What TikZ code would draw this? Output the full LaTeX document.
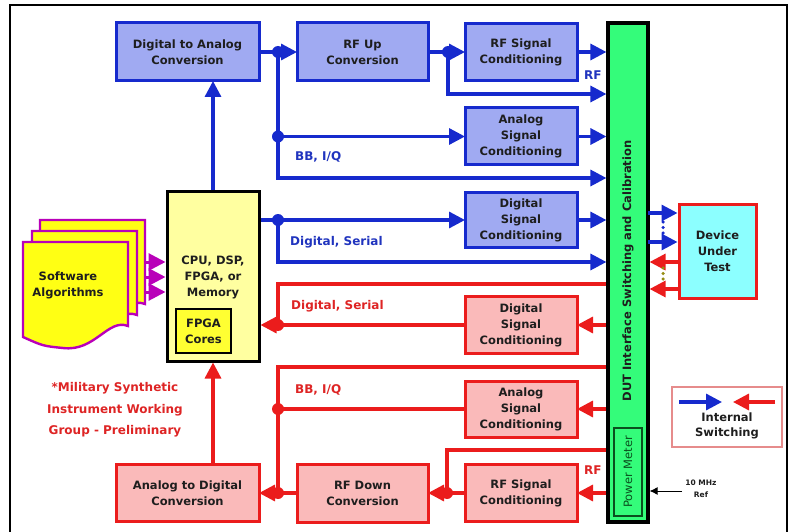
\documentclass[tikz,border=0pt]{standalone}
\usepackage{fontspec}
\setmainfont{DejaVu Sans}
\usetikzlibrary{arrows.meta}

\definecolor{lineblue}{RGB}{22,42,205}
\definecolor{fillblue}{RGB}{160,170,242}
\definecolor{textblue}{RGB}{32,52,190}
\definecolor{linered}{RGB}{235,28,28}
\definecolor{fillred}{RGB}{250,186,186}
\definecolor{textred}{RGB}{222,36,36}
\definecolor{barfill}{RGB}{52,252,122}
\definecolor{pmgreen}{RGB}{10,80,30}
\definecolor{cpufill}{RGB}{255,255,160}
\definecolor{fpgafill}{RGB}{255,255,50}
\definecolor{docfill}{RGB}{255,255,20}
\definecolor{docedge}{RGB}{185,0,185}
\definecolor{dutfill}{RGB}{140,255,255}
\definecolor{ink}{RGB}{30,30,30}
\definecolor{legendedge}{RGB}{230,140,140}
\definecolor{olivedots}{RGB}{150,140,20}

\newcommand\boxfont{\bfseries\fontsize{11.5}{16}\selectfont}
\newcommand\labelfont{\bfseries\fontsize{12}{14}\selectfont}

\tikzset{
  wh/.style 2 args={minimum width=#1, minimum height=#2},
  basebox/.style={line width=3pt, align=center, font=\boxfont, text=ink,
                  inner sep=0pt, outer sep=0pt},
  bbox/.style={basebox, draw=lineblue, fill=fillblue},
  rbox/.style={basebox, draw=linered, fill=fillred},
  bl/.style={draw=lineblue, line width=3.3pt},
  rl/.style={draw=linered, line width=3.3pt},
  bdot/.style={fill=lineblue},
  rdot/.style={fill=linered},
  mgline/.style={draw=docedge, line width=3pt},
  blbl/.style={font=\labelfont, text=textblue, anchor=west, inner sep=0pt},
  rlbl/.style={font=\labelfont, text=textred, anchor=west, inner sep=0pt},
  docpage/.pic={
    \draw[draw=docedge, fill=docfill, line width=2.4pt]
      (0,0) -- (105,0) -- (105,84)
      .. controls (85,76) and (72,110) .. (40,106)
      .. controls (20,104) .. (0,95) -- cycle;
  }
}

\begin{document}
\begin{tikzpicture}[x=1pt, y=-1pt, >={Triangle[length=16pt,width=16pt]}]
\useasboundingbox (0,0) rectangle (793,532);

% outer frame
\draw[line width=1.2pt, black] (10,534) -- (10,5) -- (787,5) -- (787,534);

% ---------- transmit side (blue) ----------
\node[bbox, wh={143pt}{58pt}] (dac)   at (187.5,52)  {Digital to Analog\\Conversion};
\node[bbox, wh={131pt}{58pt}] (rfup)  at (362.5,52)  {RF Up\\Conversion};
\node[bbox, wh={112pt}{57pt}] (rfsc)  at (521,52)    {RF Signal\\Conditioning};
\node[bbox, wh={112pt}{57pt}] (asig)  at (521,136.5) {Analog\\Signal\\Conditioning};
\node[bbox, wh={112pt}{55pt}] (dsig)  at (521,220)   {Digital\\Signal\\Conditioning};

% ---------- receive side (red) ----------
\node[rbox, wh={112pt}{57pt}] (dsigr)  at (521,325)  {Digital\\Signal\\Conditioning};
\node[rbox, wh={112pt}{56pt}] (asigr)  at (521,409)  {Analog\\Signal\\Conditioning};
\node[rbox, wh={112pt}{57pt}] (rfscr)  at (521,493)  {RF Signal\\Conditioning};
\node[rbox, wh={131pt}{58pt}] (rfdown) at (362.5,493) {RF Down\\Conversion};
\node[rbox, wh={143pt}{57pt}] (adc)    at (187.5,493) {Analog to Digital\\Conversion};

% ---------- processor ----------
\node[draw=black, fill=cpufill, line width=3pt, wh={92pt}{169pt}, inner sep=0pt] (cpu) at (213,276.5) {};
\node[font=\boxfont, text=ink, align=center, inner sep=0pt] (cputxt) at (213,277) {CPU, DSP,\\FPGA, or\\Memory};
\node[draw=black, fill=fpgafill, line width=2pt, wh={55pt}{44pt}, inner sep=0pt,
      font=\boxfont, text=ink, align=center] (fpga) at (203.5,331) {FPGA\\Cores};

% ---------- DUT interface bar ----------
\node[draw=black, fill=barfill, line width=3.2pt, wh={40pt}{499pt}, inner sep=0pt] (dutsw) at (628,272.5) {};
\node[rotate=90, font=\bfseries\fontsize{11.5}{13}\selectfont, text=ink, inner sep=0pt] (dutlbl) at (628,271) {DUT Interface Switching and Calibration};
\node[draw=pmgreen, line width=1.6pt, wh={28pt}{88pt}, inner sep=0pt] (pm) at (628,472) {};
\node[rotate=90, font=\fontsize{11.5}{12}\selectfont, text=pmgreen, inner sep=0pt] (pmlbl) at (pm.center) {Power Meter};

% ---------- device under test ----------
\node[draw=linered, fill=dutfill, line width=3pt, wh={77pt}{93pt}, inner sep=0pt,
      font=\boxfont, text=ink, align=center] (dut) at (717.5,251.5) {Device\\Under\\Test};

% ---------- software stack ----------
\pic at (40,220) {docpage};
\pic at (32,231) {docpage};
\pic at (23,242) {docpage};
\node[font=\boxfont, text=ink, align=center, inner sep=0pt] (sw) at (68,285) {Software\\Algorithms};

\coordinate (s1) at (145,262);
\coordinate (s2) at (145,277);
\coordinate (s3) at (145,292);
\foreach \s in {s1,s2,s3}
  \draw[mgline, -{Triangle[length=17pt,width=17pt]}, color=docedge] (\s) -- (\s -| cpu.west);

% ---------- blue connectors ----------
\coordinate (jA) at (278,52);
\coordinate (jB) at (278,136.5);
\coordinate (bbl) at (278,178);
\coordinate (jC) at (448,52);
\coordinate (rfl) at (448,94);
\coordinate (jD) at (278,220);
\coordinate (dsl) at (278,262);

\draw[bl, ->] (cpu.north) -- (cpu.north |- dac.south);
\draw[bl] (dac.east) -- (jA);
\draw[bl, ->] (jA) -- (rfup.west);
\draw[bl, ->] (jA) |- (bbl -| dutsw.west);
\draw[bl, ->] (jB) -- (asig.west);
\draw[bl, ->] (asig.east) -- (asig.east -| dutsw.west);
\draw[bl] (rfup.east) -- (jC);
\draw[bl, ->] (jC) -- (rfsc.west);
\draw[bl, ->] (jC) |- (rfl -| dutsw.west);
\draw[bl, ->] (rfsc.east) -- (rfsc.east -| dutsw.west);
\draw[bl] (jD -| cpu.east) -- (jD);
\draw[bl, ->] (jD) -- (dsig.west);
\draw[bl, ->] (jD) |- (dsl -| dutsw.west);
\draw[bl, ->] (dsig.east) -- (dsig.east -| dutsw.west);
\foreach \j in {jA,jB,jC,jD}
  \fill[bdot] (\j) circle[radius=6pt];

% ---------- red connectors ----------
\coordinate (rd1) at (278,284);
\coordinate (jE) at (278,325);
\coordinate (rb1) at (278,367);
\coordinate (jF) at (278,409);
\coordinate (jG) at (278,493);
\coordinate (jH) at (447,493);
\coordinate (rfr) at (447,450);

\draw[rl] (rd1 -| dutsw.west) -- (rd1) -- (jE);
\draw[rl, ->] (jE) -- (jE -| cpu.east);
\draw[rl] (dsigr.west) -- (jE);
\draw[rl, ->] (dsigr.east -| dutsw.west) -- (dsigr.east);
\draw[rl, ->] (asigr.east -| dutsw.west) -- (asigr.east);
\draw[rl] (asigr.west) -- (jF);
\draw[rl] (rb1 -| dutsw.west) -- (rb1) -- (jG);
\draw[rl] (rfdown.west) -- (jG);
\draw[rl, ->] (jG) -- (adc.east);
\draw[rl, ->] (rfscr.east -| dutsw.west) -- (rfscr.east);
\draw[rl] (rfscr.west) -- (jH);
\draw[rl, ->] (jH) -- (rfdown.east);
\draw[rl] (jH) |- (rfr -| dutsw.west);
\draw[rl, <-] (cpu.south) -- (cpu.south |- adc.north);
\foreach \j in {jE,jF,jG,jH}
  \fill[rdot] (\j) circle[radius=6pt];

% ---------- path labels ----------
\node[blbl] (lbbb) at (295,157) {BB, I/Q};
\node[blbl] (lbrf) at (584,75)  {RF};
\node[blbl] (lbds) at (290,242) {Digital, Serial};
\node[rlbl] (lrds) at (291,306) {Digital, Serial};
\node[rlbl] (lrbb) at (295,390) {BB, I/Q};
\node[rlbl] (lrrf) at (584,470) {RF};

% ---------- DUT links ----------
\coordinate (u1) at (648,213);
\coordinate (u2) at (648,242);
\coordinate (v1) at (679,262);
\coordinate (v2) at (679,289);
\draw[bl, ->] (u1) -- (u1 -| dut.west);
\draw[bl, ->] (u2) -- (u2 -| dut.west);
\draw[rl, ->] (v1) -- (v1 -| dutsw.east);
\draw[rl, ->] (v2) -- (v2 -| dutsw.east);
\draw[lineblue, line width=3.5pt, dash pattern=on 0pt off 5.5pt, line cap=round] (663,222) -- (663,238);
\draw[olivedots, line width=3.5pt, dash pattern=on 0pt off 5.5pt, line cap=round] (663,268) -- (663,284);

% ---------- note ----------
\node[font=\bfseries\fontsize{12}{21.5}\selectfont, text=textred, align=center, inner sep=0pt] (note) at (115,410)
  {*Military Synthetic\\Instrument Working\\Group - Preliminary};

% ---------- legend ----------
\node[draw=legendedge, line width=1.2pt, wh={110pt}{60pt}, inner sep=0pt] (legend) at (727,417) {};
\coordinate (lb0) at (679,402);
\coordinate (lb1) at (722,402);
\coordinate (lr0) at (775,402);
\coordinate (lr1) at (733,402);
\draw[bl, ->] (lb0) -- (lb1);
\draw[rl, ->] (lr0) -- (lr1);
\node[font=\bfseries\fontsize{11.5}{15.5}\selectfont, text=ink, align=center, inner sep=0pt] (legtxt) at (727,426) {Internal\\Switching};

% ---------- reference input ----------
\coordinate (refp) at (682,491);
\draw[black, line width=1pt, -{Latex[length=8pt,width=8pt]}] (refp) -- (refp -| dutsw.east);
\node[font=\bfseries\fontsize{7.5}{12}\selectfont, text=ink, align=center, inner sep=0pt] (reftxt) at (701,489) {10 MHz\\Ref};
\end{tikzpicture}
\end{document}
